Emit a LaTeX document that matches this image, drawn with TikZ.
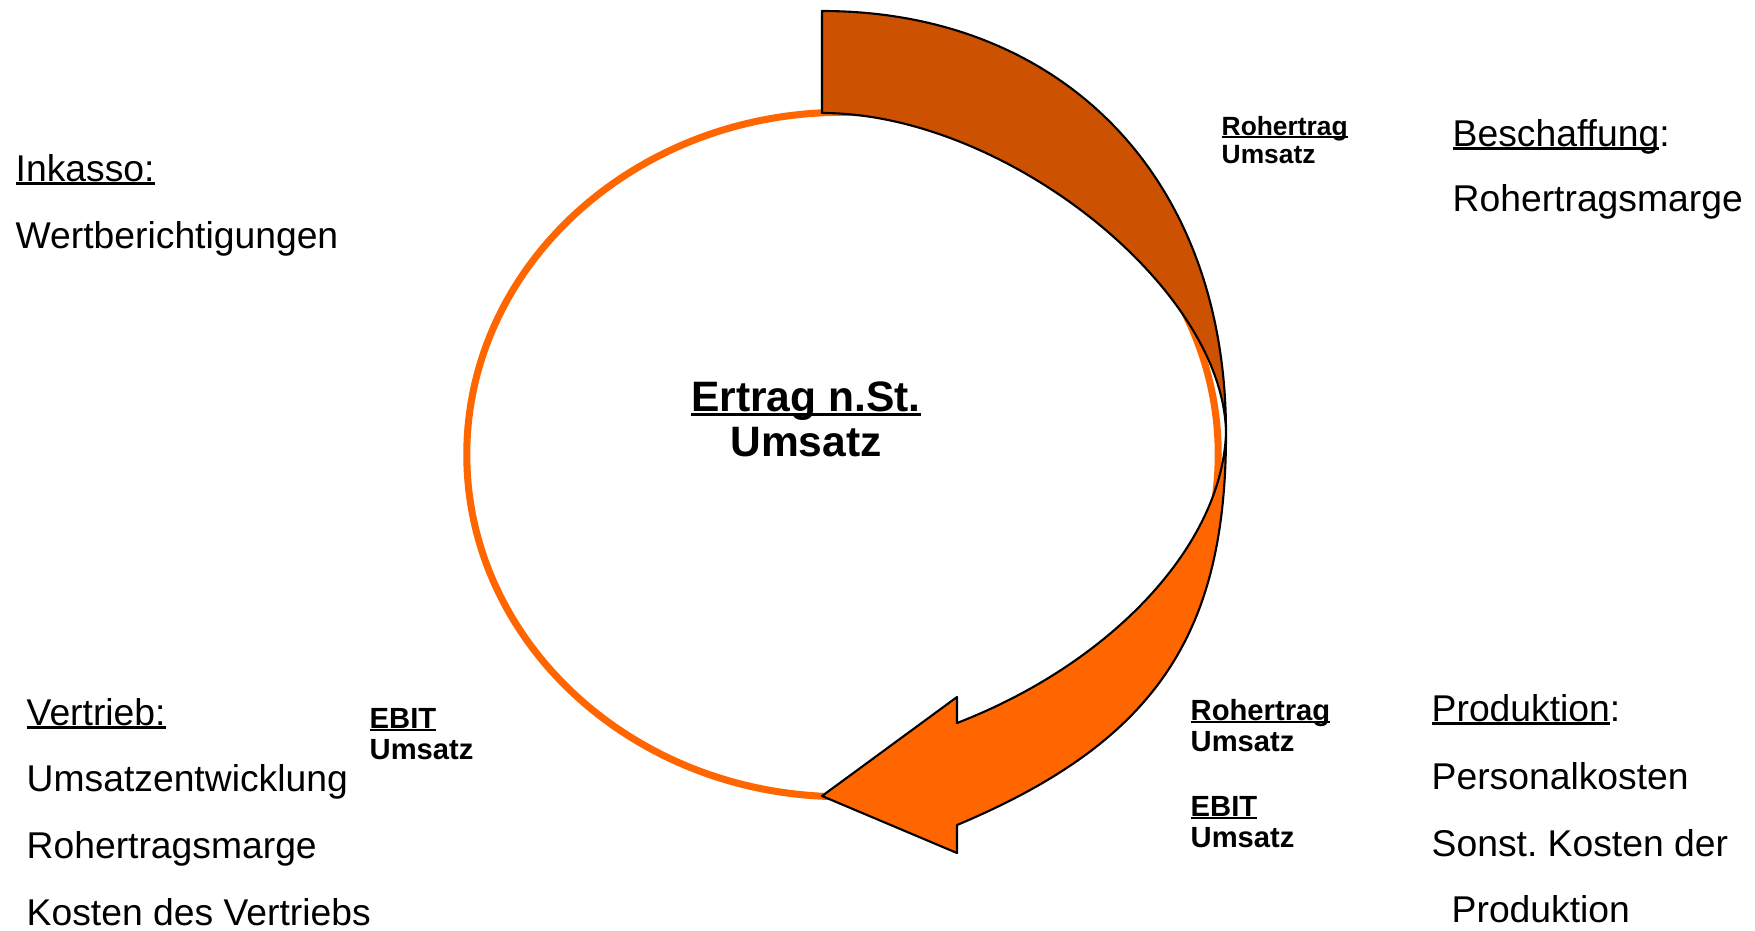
\documentclass[tikz,border=0pt]{standalone}
\usepackage{fontspec}
\setmainfont{Liberation Sans}
\definecolor{ringorange}{RGB}{255,102,0}
\definecolor{darkorange}{RGB}{204,81,0}
\newcommand{\ulin}[1]{\setbox0\hbox{#1}\rlap{\rule[-0.11em]{\wd0}{0.075em}}\box0}
\frenchspacing

\begin{document}
\begin{tikzpicture}[x=0.01cm, y=-0.01cm,
	bigtext/.style={anchor=base west, inner sep=0pt, font=\fontsize{10.6}{12}\selectfont},
	smalltext/.style={anchor=base west, inner sep=0pt, font=\fontsize{7.5}{9}\selectfont\bfseries},
	lowtext/.style={smalltext, font=\fontsize{8.3}{10}\selectfont\bfseries},
	midtext/.style={anchor=base, inner sep=0pt, font=\fontsize{12.1}{14}\selectfont\bfseries}]
					\useasboundingbox (0,0) rectangle (1755,930);
					
					\draw[ringorange, line width=2pt] (842.5,454.5) ellipse [x radius=3.755cm, y radius=3.42cm];
					
					\draw[fill=darkorange, line width=0.6pt, line join=round] (822,11) .. controls (1060,11) and (1226,175) .. (1226,433) .. controls (1224,288) and (1005,113) .. (822,113) -- cycle;
					\draw[fill=ringorange, line width=0.6pt, line join=round] (1226,433) .. controls (1226,633) and (1157,741) .. (957,825) -- (957,853) -- (822,796) -- (957,697) -- (957,723) .. controls (1112,663) and (1222,545) .. (1226,433) -- cycle;
					
					\node[midtext] (ertrag) at (806,411){\ulin{Ertrag n.St.}};
					\node[midtext] (umsatzM) at (806,456){Umsatz};
					
					\node[bigtext] (inkasso) at (15,181){\ulin{Inkasso:}};
					\node[bigtext] (wertber) at (15,248){Wertberichtigungen};
					
					\node[bigtext] (beschaff) at (1452,146){\ulin{Beschaffung}:};
					\node[bigtext] (rohmargeB) at (1452,211){Rohertragsmarge};
					\node[smalltext] (rohB) at (1221,135){\ulin{Rohertrag}};
					\node[smalltext] (umsB) at (1221,163){Umsatz};
					
					\node[bigtext] (prod) at (1431,721){\ulin{Produktion}:};
					\node[bigtext] (perskost) at (1431,789){Personalkosten};
					\node[bigtext] (sonstkost) at (1431,856){Sonst. Kosten der};
					\node[bigtext] (prodB) at (1451,922){Produktion};
					\node[lowtext] (rohP) at (1190,720){\ulin{Rohertrag}};
					\node[lowtext] (umsP) at (1190,751){Umsatz};
					\node[lowtext] (ebitP) at (1190,816){\ulin{EBIT}};
					\node[lowtext] (umsPE) at (1190,847){Umsatz};
					
					\node[bigtext] (vertrieb) at (26,725){\ulin{Vertrieb:}};
					\node[bigtext] (umsentw) at (26,791){Umsatzentwicklung};
					\node[bigtext] (rohmargeV) at (26,858){Rohertragsmarge};
					\node[bigtext] (kostvert) at (26,925){Kosten des Vertriebs};
					\node[lowtext] (ebitV) at (369,728){\ulin{EBIT}};
					\node[lowtext] (umsV) at (369,759){Umsatz};
					\end{tikzpicture}
\end{document}
